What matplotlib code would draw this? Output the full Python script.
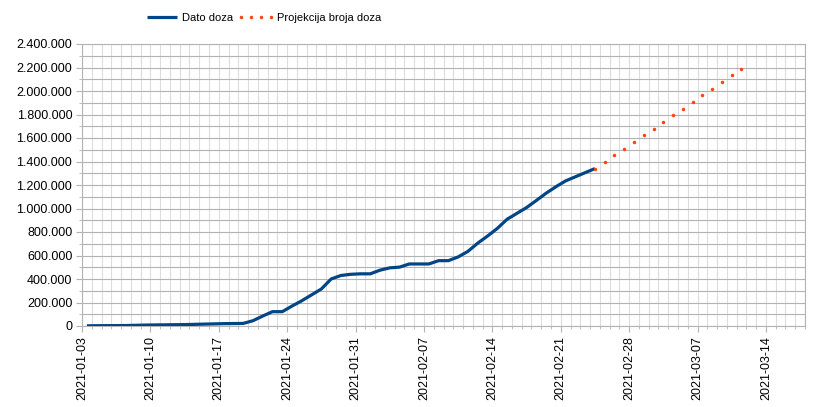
import matplotlib
matplotlib.use("Agg")
import matplotlib.pyplot as plt
from matplotlib.ticker import MultipleLocator, FuncFormatter

# daily doses given, days counted from 2021-01-03
dato_doza = [1500, 2500, 3000, 3500, 4000, 6000, 8000, 9000, 10000, 11000,
             12000, 14000, 16000, 18000, 20000, 21000, 22000, 45000, 85000, 122000,
             122000, 170000, 215000, 265000, 315000, 400000, 430000, 440000, 444000, 444000,
             475000, 495000, 501000, 528000, 528000, 528000, 556000, 556000, 588000, 635000,
             705000, 765000, 830000, 908000, 958000, 1008000, 1068000, 1130000, 1185000, 1235000,
             1270000, 1305000, 1340000]

# projection, starting at the last known day (2021-02-24)
projekcija_start = 52
projekcija = [1340000, 1397000, 1453000, 1510000, 1567000, 1623000, 1680000, 1737000,
              1793000, 1850000, 1907000, 1963000, 2020000, 2077000, 2133000, 2190000]

tick_labels = ["2021-01-03", "2021-01-10", "2021-01-17", "2021-01-24", "2021-01-31",
               "2021-02-07", "2021-02-14", "2021-02-21", "2021-02-28", "2021-03-07",
               "2021-03-14"]

plt.rcParams['font.family'] = ['Liberation Sans', 'DejaVu Sans']

fig = plt.figure(figsize=(8.17, 4.07), dpi=100)
ax = fig.add_axes([82 / 817, 81 / 407, 723 / 817, 282 / 407])

# data points sit in the middle of each day
x_data = [i + 0.5 for i in range(len(dato_doza))]
x_proj = [projekcija_start + i + 0.5 for i in range(len(projekcija))]

ax.plot(x_data, dato_doza, color="#004586", linewidth=2.3, label="Dato doza",
        solid_capstyle="butt", zorder=3)
# one dot per day, like the dotted line in the original
ax.plot(x_proj, projekcija, color="#ff420e", linestyle="none", marker="o",
        markersize=2.5, markeredgewidth=0, label="Projekcija broja doza", zorder=3)

ax.set_xlim(0, 74)
ax.set_ylim(0, 2400000)

ax.set_xticks([7 * i for i in range(len(tick_labels))])
ax.set_xticklabels(tick_labels, rotation=90)
ax.xaxis.set_minor_locator(MultipleLocator(1))
ax.yaxis.set_major_locator(MultipleLocator(200000))
ax.yaxis.set_minor_locator(MultipleLocator(100000))
ax.yaxis.set_major_formatter(FuncFormatter(lambda v, p: f"{int(v):,}".replace(",", ".")))

ax.grid(axis="x", which="both", color="#dddddd", linewidth=0.8)
ax.grid(axis="y", which="both", color="#b3b3b3", linewidth=0.8)
ax.set_axisbelow(True)

for side in ax.spines.values():
    side.set_color("#b3b3b3")
    side.set_linewidth(0.8)

ax.tick_params(axis="both", which="major", length=4, color="#b3b3b3",
               labelsize=9, labelcolor="#000000", pad=3)
ax.tick_params(axis="both", which="minor", length=2, color="#b3b3b3")

ax.legend(loc="center", bbox_to_anchor=((262 - 82) / 723, 1 + 26 / 282), ncol=2,
          frameon=False, fontsize=8, handlelength=3.3, numpoints=4,
          handletextpad=0.2, columnspacing=0.4)

fig.savefig("out.png", dpi=100)
